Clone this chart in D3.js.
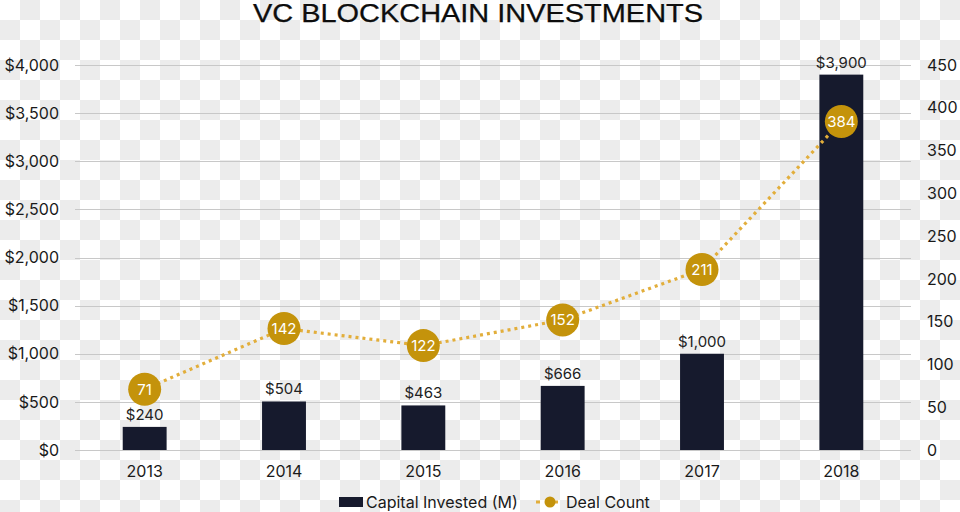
<!DOCTYPE html>
<html><head><meta charset="utf-8">
<script src="https://cdn.jsdelivr.net/npm/d3@7"></script>
<style>
html,body{margin:0;padding:0;}
svg{display:block;font-family:Inter,"Liberation Sans",sans-serif;}
</style></head>
<body>
<svg id="chart" width="960" height="512"></svg>
<script>
const years = ["2013","2014","2015","2016","2017","2018"];
const capital = [240, 504, 463, 666, 1000, 3900];
const capitalLabels = ["$240","$504","$463","$666","$1,000","$3,900"];
const deals = [71, 142, 122, 152, 211, 384];
const leftTicks = [0,500,1000,1500,2000,2500,3000,3500,4000];
const rightTicks = [0,50,100,150,200,250,300,350,400,450];

const W = 960, H = 512;
const svg = d3.select("#chart");
const m = {left:75, right:49, top:65, bottom:62};

// checkerboard background (transparent png look)
const defs = svg.append("defs");
const pat = defs.append("pattern").attr("id","chk").attr("patternUnits","userSpaceOnUse")
  .attr("width",40).attr("height",40);
pat.append("rect").attr("width",40).attr("height",40).attr("fill","#ffffff");
pat.append("rect").attr("x",20).attr("y",0).attr("width",20).attr("height",20).attr("fill","#ececec");
pat.append("rect").attr("x",0).attr("y",20).attr("width",20).attr("height",20).attr("fill","#ececec");
svg.append("rect").attr("width",W).attr("height",H).attr("fill","url(#chk)");

const x = d3.scaleBand().domain(years).range([m.left, W-m.right]).paddingInner(0.685).paddingOuter(0.3425);
const yL = d3.scaleLinear().domain([0,4000]).range([H-m.bottom, m.top]);
const yR = d3.scaleLinear().domain([0,450]).range([H-m.bottom, m.top]);

// title
svg.append("text").attr("x",478).attr("y",21.5).attr("text-anchor","middle")
  .attr("font-family","'Liberation Sans',Arial,sans-serif").attr("font-size",25)
  .attr("stroke","#0d0d0d").attr("stroke-width",0.25)
  .attr("textLength",450).attr("lengthAdjust","spacingAndGlyphs")
  .attr("fill","#0d0d0d").text("VC BLOCKCHAIN INVESTMENTS");

// gridlines
svg.append("g").selectAll("line").data(leftTicks).join("line")
  .attr("x1",m.left).attr("x2",W-m.right)
  .attr("y1",d=>Math.round(yL(d))+0.5).attr("y2",d=>Math.round(yL(d))+0.5)
  .attr("stroke","#c8c8c8").attr("stroke-width",1);

// left axis
const axL = svg.append("g").attr("transform",`translate(${m.left},0)`)
  .call(d3.axisLeft(yL).tickValues(leftTicks).tickSize(0).tickPadding(16)
    .tickFormat(d=>"$"+d3.format(",")(d)));
axL.select(".domain").remove();
axL.selectAll("text").attr("font-size",16).attr("fill","#1a1a1a").attr("font-family","Inter,sans-serif");

// right axis
const axR = svg.append("g").attr("transform",`translate(${W-m.right},0)`)
  .call(d3.axisRight(yR).tickValues(rightTicks).tickSize(0).tickPadding(16));
axR.select(".domain").remove();
axR.selectAll("text").attr("font-size",16).attr("fill","#1a1a1a").attr("font-family","Inter,sans-serif");

// bottom axis
const axB = svg.append("g").attr("transform",`translate(0,${H-m.bottom})`)
  .call(d3.axisBottom(x).tickSize(0).tickPadding(16));
axB.select(".domain").remove();
axB.selectAll("text").attr("font-size",16).attr("fill","#1a1a1a").attr("font-family","Inter,sans-serif");

// bars
svg.append("g").selectAll("rect").data(years).join("rect")
  .attr("x",d=>x(d)).attr("width",x.bandwidth())
  .attr("y",(d,i)=>yL(capital[i])).attr("height",(d,i)=>yL(0)-yL(capital[i]))
  .attr("fill","#161a2d");

// bar labels
svg.append("g").selectAll("text").data(years).join("text")
  .attr("x",d=>x(d)+x.bandwidth()/2).attr("y",(d,i)=>yL(capital[i])-7)
  .attr("text-anchor","middle").attr("font-size",15).attr("fill","#222")
  .text((d,i)=>capitalLabels[i]);

// line
const cx = d=>x(d)+x.bandwidth()/2;
const line = d3.line().x((d,i)=>cx(years[i])).y(d=>yR(d));
svg.append("path").datum(deals).attr("d",line).attr("fill","none")
  .attr("stroke","#e2ae3b").attr("stroke-width",3.2).attr("stroke-dasharray","3,4");

const pts = svg.append("g").selectAll("g").data(deals).join("g")
  .attr("transform",(d,i)=>`translate(${cx(years[i])},${yR(d)})`);
pts.append("circle").attr("r",16.5).attr("fill","#c4930b");
pts.append("text").attr("text-anchor","middle").attr("dy","0.36em")
  .attr("font-size",15).attr("fill","#fff").text(d=>d);

// legend
const lg = svg.append("g").attr("transform","translate(0,502)");
lg.append("rect").attr("x",339).attr("y",-5).attr("width",24).attr("height",10).attr("fill","#161a2d");
lg.append("text").attr("x",366).attr("y",0).attr("dy","0.35em").attr("font-size",16).attr("fill","#1a1a1a").text("Capital Invested (M)");
lg.append("line").attr("x1",536).attr("x2",561).attr("y1",0).attr("y2",0)
  .attr("stroke","#e2ae3b").attr("stroke-width",3).attr("stroke-dasharray","4,5");
lg.append("circle").attr("cx",550).attr("cy",0).attr("r",5.5).attr("fill","#c4930b");
lg.append("text").attr("x",566).attr("y",0).attr("dy","0.35em").attr("font-size",16).attr("fill","#1a1a1a").text("Deal Count");
</script>
</body></html>
